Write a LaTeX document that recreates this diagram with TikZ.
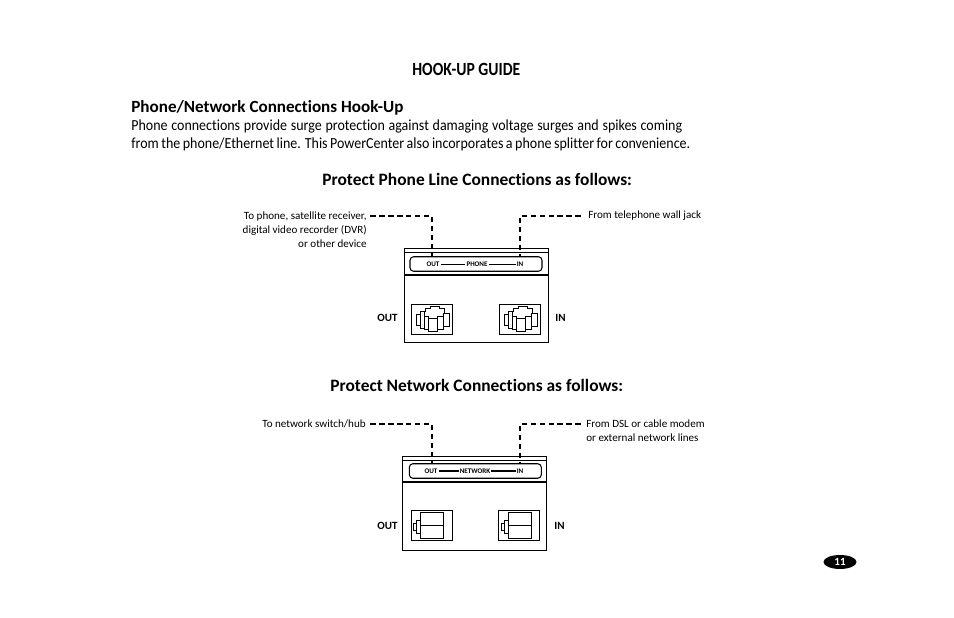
\documentclass[tikz,border=0pt]{standalone}
\usepackage{fontspec}
\setmainfont[Ligatures=CommonOff]{Carlito}
\newfontfamily\bodyfont[Ligatures=CommonOff,FakeStretch=0.91]{Carlito}
\newfontfamily\titlefont[Ligatures=CommonOff,FakeStretch=0.84]{Carlito}
\usetikzlibrary{positioning,shapes.geometric}

\tikzset{
  panel/.style={draw,line width=0.5pt,minimum width=2.88cm,minimum height=1.88cm,inner sep=0pt},
  pill/.style={draw,line width=0.6pt,rounded corners=2pt,minimum width=2.64cm,minimum height=0.29cm,inner sep=0pt},
  wire/.style={line width=1.2pt,dash pattern=on 3.2pt off 1.9pt},
  head/.style={font=\bfseries\fontsize{9.9}{11}\selectfont,anchor=base west,inner sep=0pt},
  note/.style={font=\fontsize{6.3}{8}\selectfont,inner sep=0pt},
  side/.style={font=\bfseries\fontsize{6.3}{8}\selectfont,inner sep=0pt},
  tiny/.style={font=\bfseries\fontsize{4}{4.5}\selectfont,inner sep=0.5pt},
  jackbox/.style={draw,line width=0.5pt,minimum width=0.82cm,minimum height=0.6cm,inner sep=0pt},
}

\begin{document}
\begin{tikzpicture}[x=0.02cm,y=-0.02cm]
\useasboundingbox (0,0) rectangle (954,618);

% text
\node[head,font=\titlefont\bfseries\fontsize{10.6}{13}\selectfont] (title) at (412,76) {HOOK-UP GUIDE};
\node[head,font=\bfseries\fontsize{9.73}{11}\selectfont] (sub) at (131,113) {Phone/Network Connections Hook-Up};
\node[anchor=north west,inner sep=0pt,align=left,font=\bodyfont\fontsize{8.75}{10.3}\selectfont] (intro) at (131,119.5)
  {\makebox[11.02cm][s]{Phone connections provide surge protection against damaging voltage surges and spikes coming}\\
   \makebox[11.18cm][s]{from the phone/Ethernet line. This PowerCenter also incorporates a phone splitter for convenience.}};
\node[head] (phonehead) at (322,186) {Protect Phone Line Connections as follows:};
\node[head] (nethead) at (330,392) {Protect Network Connections as follows:};

% phone
\node[panel] (phone) at (476,295.5) {};
\draw[line width=0.4pt] (phone.west |- 0,252) -- (phone.east |- 0,252);
\draw[line width=1pt] (phone.west |- 0,275) -- (phone.east |- 0,275);
\node[pill] (phonepill) at (476,264) {};
\node[tiny] (pout) at (433,264) {OUT};
\node[tiny] (pname) at (477,264) {PHONE};
\node[tiny] (pin) at (520,264) {IN};
\draw[line width=0.55pt] (pout) -- (pname);
\draw[line width=0.55pt] (pname) -- (pin);
\node[jackbox] (pjo) at (432.3,319.3) {};
\node[jackbox] (pji) at (520.3,319.3) {};
\foreach \jack in {pjo,pji} {
  \begin{scope}[shift={(\jack.center)},line width=0.5pt]
    \draw (-16,-5) rectangle (-12,6);
    \draw (-12,-8) rectangle (-8,9);
    \draw (-8,-3) rectangle (-4,10);
    \draw (-4,-1) rectangle (5,12);
    \draw (5,-3) rectangle (11,10);
    \draw (11,-6) rectangle (17,7);
    \draw (-12,-8) -- (-7,-8) -- (-7,-11) -- (-2,-11) -- (-2,-13) -- (7,-13) -- (7,-11) -- (12,-11) -- (12,-6);
  \end{scope}
}
\node[side,anchor=east] (pouttxt) at (398,317.5) {OUT};
\node[side,anchor=west] (pintxt) at (555,317.5) {IN};
\node[note,anchor=north east,align=right,font=\fontsize{6.3}{8}\selectfont] (plabel) at (367,211) {To phone, satellite receiver,\\digital video recorder (DVR)\\or other device};
\node[note,anchor=west] (prlabel) at (588,216) {From telephone wall jack};
\coordinate (pfreel) at (370,216);
\coordinate (pfreer) at (581,216);
\coordinate (pportl) at (432,257);
\coordinate (pportr) at (520,257);
\draw[wire] (pfreel) -| (pportl);
\draw[wire] (pfreer) -| (pportr);

% network
\node[panel] (net) at (474.7,503.3) {};
\draw[line width=0.4pt] (net.west |- 0,460) -- (net.east |- 0,460);
\draw[line width=1pt] (net.west |- 0,482) -- (net.east |- 0,482);
\node[pill] (netpill) at (475.3,471) {};
\node[tiny] (nout) at (431,471) {OUT};
\node[tiny] (nname) at (475,471) {NETWORK};
\node[tiny] (nin) at (520,471) {IN};
\draw[line width=0.8pt] (nout) -- (nname);
\draw[line width=0.8pt] (nname) -- (nin);
\node[jackbox] (njo) at (431.5,525.5) {};
\node[jackbox] (nji) at (519,525.5) {};
\foreach \jack in {njo,nji} {
  \begin{scope}[shift={(\jack.center)},line width=0.5pt]
    \draw (-11,-13) rectangle (12,13);
    \draw (-11,0) -- (12,0);
    \draw (-15,-5) rectangle (-11,8);
    \draw (-18,-2) rectangle (-15,5);
  \end{scope}
}
\node[side,anchor=east] (nouttxt) at (398,525.5) {OUT};
\node[side,anchor=west] (nintxt) at (554,525.5) {IN};
\node[note,anchor=east] (nlabel) at (366,424) {To network switch/hub};
\node[note,anchor=north west,align=left,font=\fontsize{6.3}{8.1}\selectfont] (nrlabel) at (586,419) {From DSL or cable modem\\or external network lines};
\coordinate (nfreel) at (370,424);
\coordinate (nfreer) at (581,424);
\coordinate (nportl) at (432,464);
\coordinate (nportr) at (520,464);
\draw[wire] (nfreel) -| (nportl);
\draw[wire] (nfreer) -| (nportr);

% page number
\node[ellipse,fill=black,text=white,minimum width=0.66cm,minimum height=0.28cm,inner sep=0pt,font=\bfseries\fontsize{6.3}{8}\selectfont] (page) at (840,562) {11};
\end{tikzpicture}
\end{document}
